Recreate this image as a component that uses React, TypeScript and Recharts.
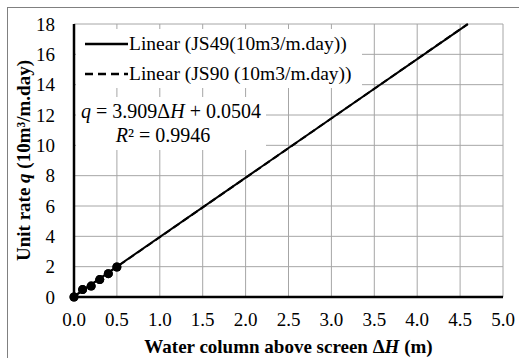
import React from 'react';
import {
  ComposedChart,
  Scatter,
  Line,
  XAxis,
  YAxis,
  CartesianGrid,
  Label,
} from 'recharts';

// measured points (water column above screen, m)
const depths = [0, 0.1, 0.2, 0.3, 0.4, 0.5];
const rateJS49 = [0, 0.49, 0.72, 1.15, 1.54, 1.98];
const rateJS90 = [0, 0.49, 0.72, 1.15, 1.54, 1.98];

// linear trend end points
const trendX = [0, 4.59];
const trendJS49 = [0.05, 17.99];
const trendJS90 = [0.03, 18.0];

const xTicks = [0, 0.5, 1, 1.5, 2, 2.5, 3, 3.5, 4, 4.5, 5];
const yTicks = [0, 2, 4, 6, 8, 10, 12, 14, 16, 18];

const legendItems = ['Linear (JS49(10m3/m.day))', 'Linear (JS90 (10m3/m.day))'];

const pointsJS49 = depths.map((x, i) => ({ x, y: rateJS49[i] }));
const pointsJS90 = depths.map((x, i) => ({ x, y: rateJS90[i] }));
const lineJS49 = trendX.map((x, i) => ({ x, y: trendJS49[i] }));
const lineJS90 = trendX.map((x, i) => ({ x, y: trendJS90[i] }));

const FONT = '"Liberation Serif", "Times New Roman", serif';

const XTitle = (props: any) => {
  const { viewBox } = props;
  const cx = viewBox.x + viewBox.width / 2;
  return (
    <text x={cx} y={353} textAnchor="middle" fontFamily={FONT} fontSize={19} fontWeight="bold" fill="#000">
      Water column above screen Δ<tspan fontStyle="italic">H</tspan> (m)
    </text>
  );
};

const YTitle = (props: any) => {
  const { viewBox } = props;
  const cy = viewBox.y + viewBox.height / 2;
  return (
    <text
      x={23}
      y={cy}
      dy="0.35em"
      transform={`rotate(-90, 23, ${cy})`}
      textAnchor="middle"
      fontFamily={FONT}
      fontSize={19}
      fontWeight="bold"
      fill="#000"
    >
      Unit rate <tspan fontStyle="italic">q</tspan> (10m³/m.day)
    </text>
  );
};

const Dot = (props: any) => <circle cx={props.cx} cy={props.cy} r={4.5} fill="#000" />;

export default function App() {
  return (
    <div style={{ position: 'absolute', left: 0, top: 0, width: 519, height: 358, overflow: 'hidden', background: '#fff' }}>
      <div
        style={{
          position: 'absolute',
          left: 7,
          top: 7,
          width: 600,
          height: 400,
          borderTop: '1px solid #808080',
          borderLeft: '1px solid #808080',
        }}
      />
      <div style={{ position: 'absolute', left: 0, top: 0 }}>
        <ComposedChart width={519} height={358} margin={{ top: 24, right: 16, bottom: 31, left: 0 }}>
          <CartesianGrid stroke="#a6a6a6" strokeWidth={1} />
          <XAxis
            type="number"
            dataKey="x"
            domain={[0, 5]}
            ticks={xTicks}
            tickFormatter={(v: number) => v.toFixed(1)}
            axisLine={{ stroke: '#000', strokeWidth: 2.5 }}
            tickLine={false}
            tickMargin={10}
            tick={{ fontSize: 19, fill: '#000', fontFamily: FONT }}
            interval={0}
          >
            <Label content={XTitle} />
          </XAxis>
          <YAxis
            type="number"
            dataKey="y"
            domain={[0, 18]}
            ticks={yTicks}
            width={74}
            axisLine={{ stroke: '#000', strokeWidth: 2.5 }}
            tickLine={false}
            tickMargin={13}
            tick={{ fontSize: 19, fill: '#000', fontFamily: FONT }}
            interval={0}
          >
            <Label content={YTitle} />
          </YAxis>
          <Line data={lineJS49} dataKey="y" stroke="#000" strokeWidth={2} dot={false} isAnimationActive={false} />
          <Line
            data={lineJS90}
            dataKey="y"
            stroke="#000"
            strokeWidth={2}
            strokeDasharray="7 4"
            dot={false}
            isAnimationActive={false}
          />
          <Scatter data={pointsJS49} dataKey="y" shape={Dot} isAnimationActive={false} />
          <Scatter data={pointsJS90} dataKey="y" shape={Dot} isAnimationActive={false} />
        </ComposedChart>
      </div>
      <div
        style={{
          position: 'absolute',
          left: 76,
          top: 29,
          width: 286,
          height: 59,
          background: '#fff',
          fontFamily: FONT,
          fontSize: 19.5,
          color: '#000',
        }}
      >
        {legendItems.map((name, i) => (
          <div key={name} style={{ display: 'flex', alignItems: 'center', height: 30, whiteSpace: 'nowrap' }}>
            <svg width={53} height={10} style={{ flex: 'none' }}>
              <line
                x1={9}
                y1={5}
                x2={52}
                y2={5}
                stroke="#000"
                strokeWidth={2.5}
                strokeDasharray={i === 1 ? '8 5' : undefined}
              />
            </svg>
            <span>{name}</span>
          </div>
        ))}
      </div>
      <div
        style={{
          position: 'absolute',
          left: 76,
          top: 97,
          width: 190,
          height: 53,
          background: '#fff',
          fontFamily: FONT,
          fontSize: 20,
          lineHeight: '24px',
          paddingTop: 2,
          boxSizing: 'border-box',
          textAlign: 'center',
          color: '#000',
          whiteSpace: 'nowrap',
        }}
      >
        <div>
          <i>q</i> = 3.909Δ<i>H</i> + 0.0504
        </div>
        <div style={{ paddingRight: 16 }}>
          <i>R</i>² = 0.9946
        </div>
      </div>
    </div>
  );
}
